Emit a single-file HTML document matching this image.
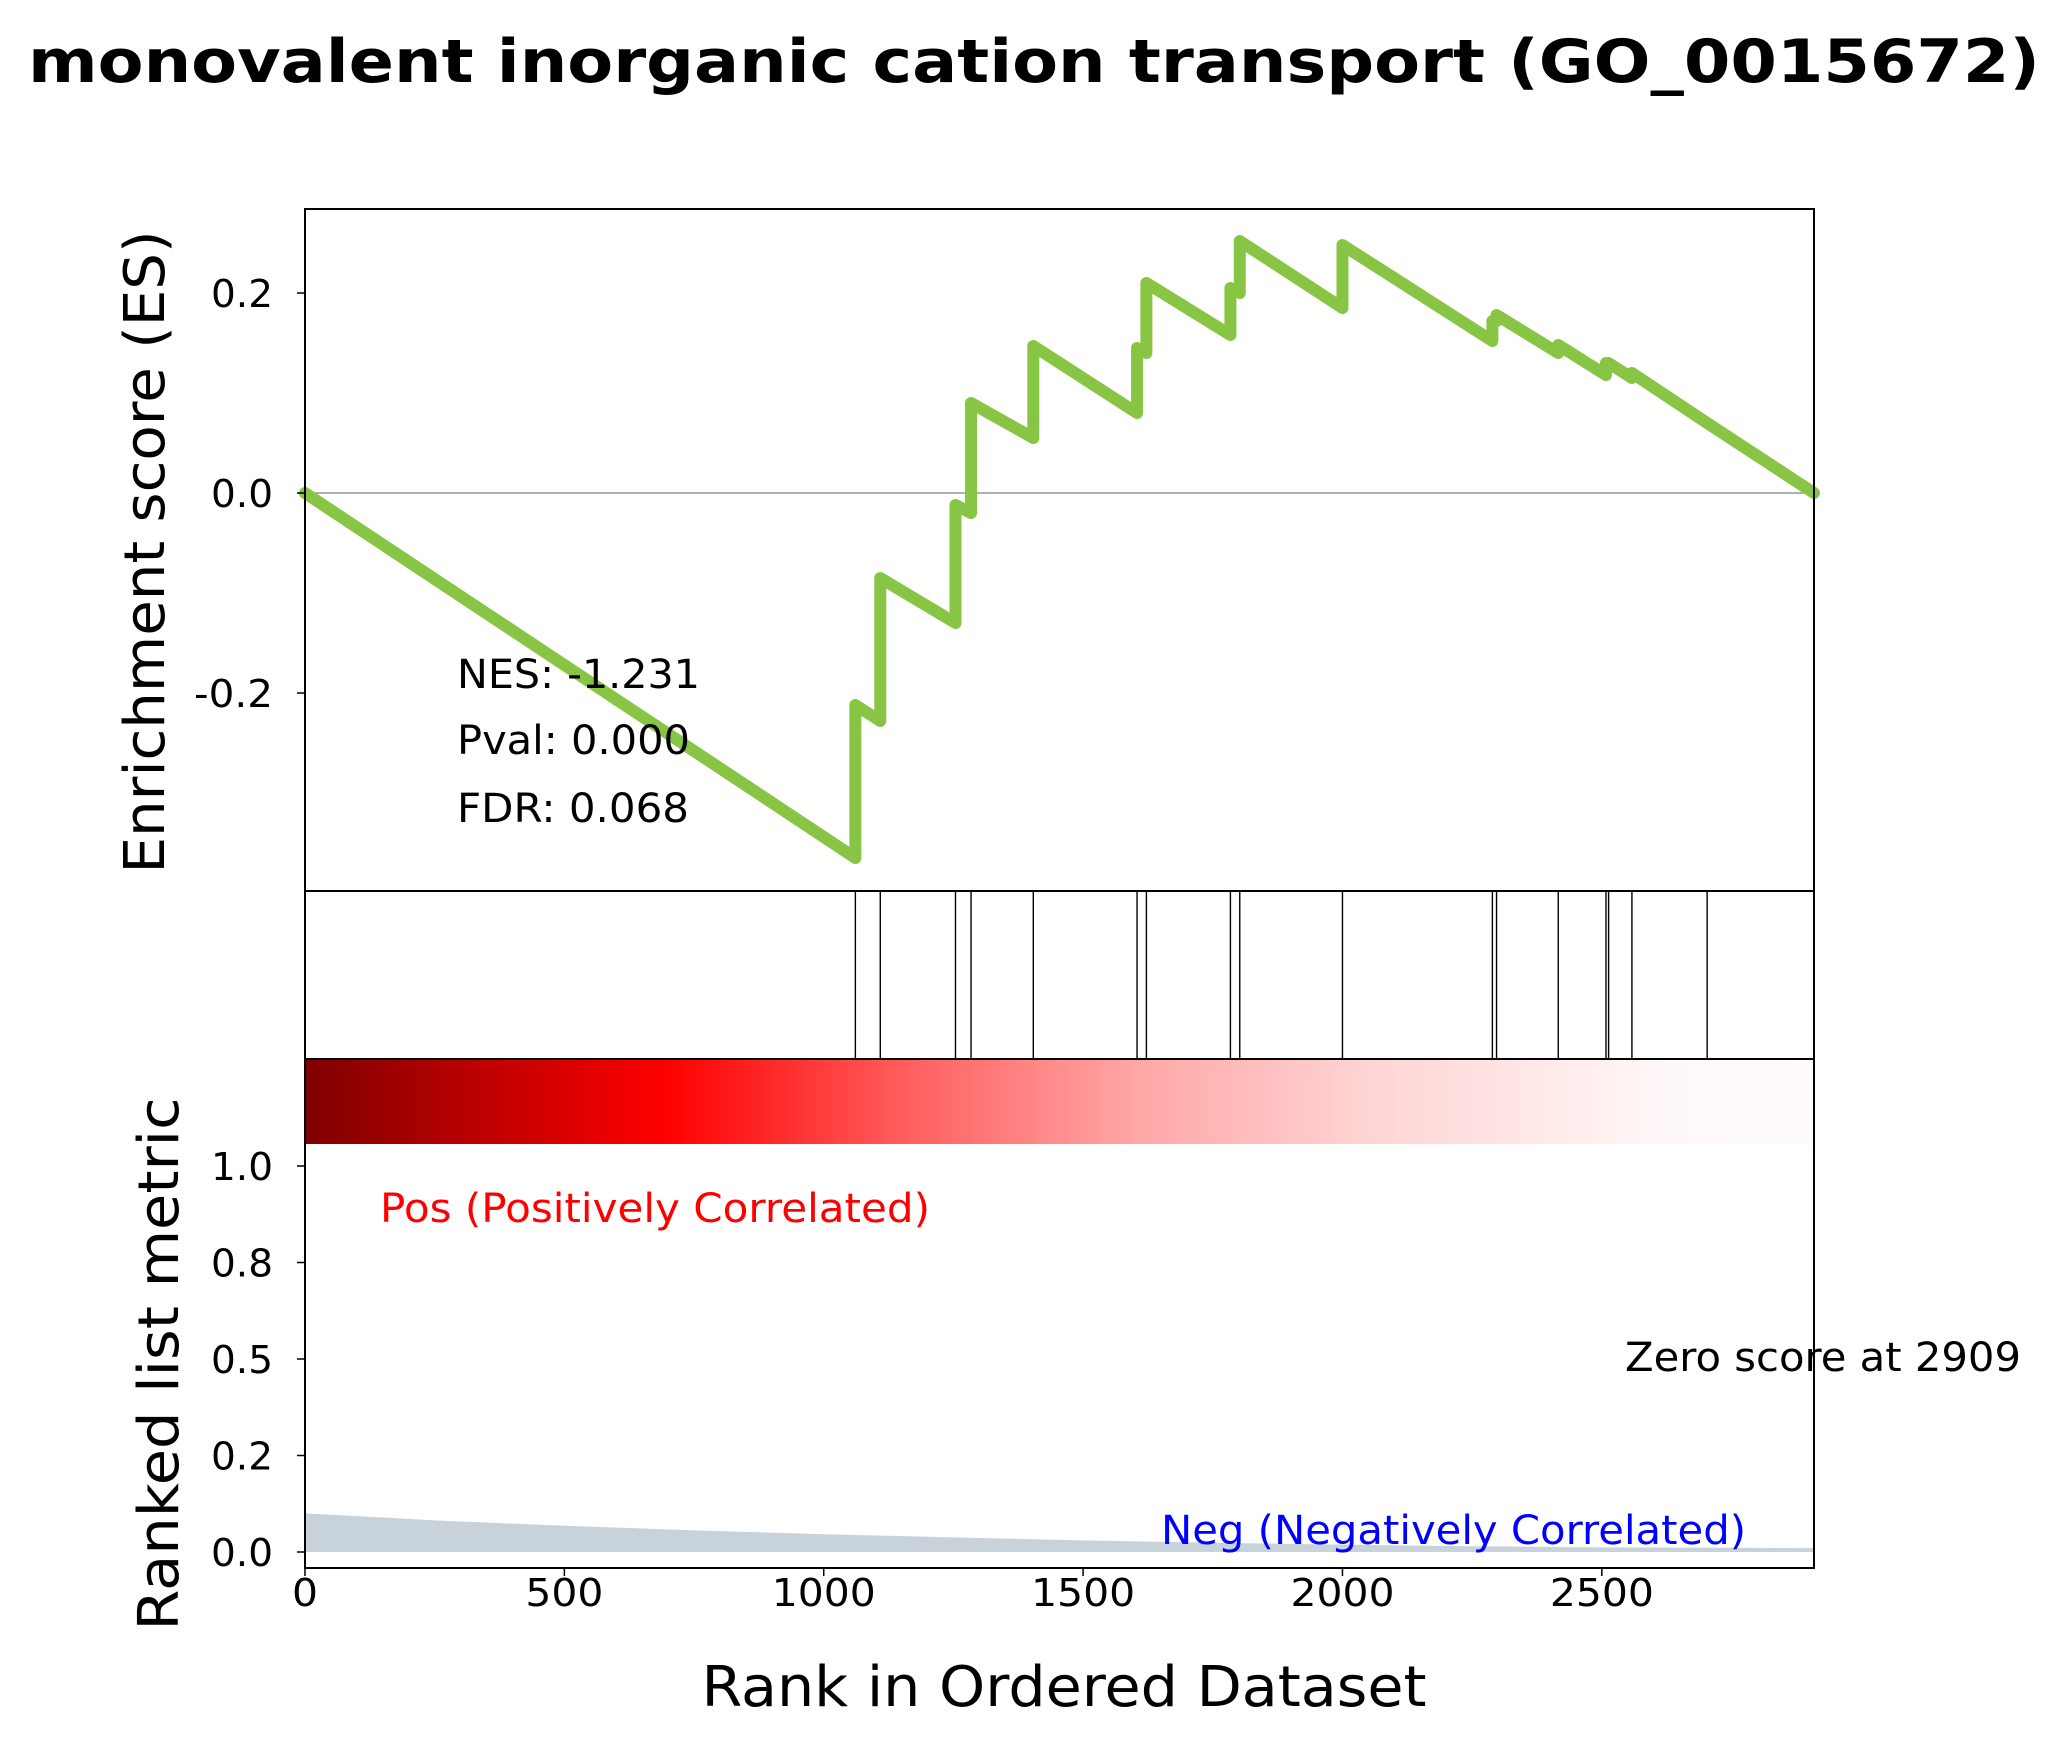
<!DOCTYPE html>
<html><head><meta charset="utf-8"><style>
html,body{margin:0;padding:0;background:#fff;}
svg{display:block;font-family:"DejaVu Sans","Liberation Sans",sans-serif;}
</style></head><body>
<svg id="chart" width="2068" height="1741" viewBox="0 0 2068 1741" xmlns="http://www.w3.org/2000/svg">
<defs>
<linearGradient id="rg" x1="0" x2="1" y1="0" y2="0">
<stop offset="0" stop-color="#7f0000"/>
<stop offset="0.24" stop-color="#ff0000"/>
<stop offset="0.40" stop-color="#ff5f5f"/>
<stop offset="0.55" stop-color="#ffa6a6"/>
<stop offset="0.70" stop-color="#ffd3d3"/>
<stop offset="0.85" stop-color="#ffeeee"/>
<stop offset="0.90" stop-color="#fff8f8"/>
<stop offset="1" stop-color="#fffbfb"/>
</linearGradient>
</defs>
<text x="1034" y="82" text-anchor="middle" font-size="60" font-weight="bold" textLength="2012" lengthAdjust="spacingAndGlyphs">monovalent inorganic cation transport (GO_0015672)</text>
<g id="es"></g>
<g id="hits"></g>
<g id="metric"></g>
</svg>
<script>
const hitRanks=[1061,1109,1254,1284,1404,1604,1622,1784,1802,2000,2289,2297,2416,2508,2513,2558,2703];
const esBefore=[-0.365,-0.228,-0.130,-0.020,0.055,0.080,0.140,0.158,0.200,0.185,0.152,0.172,0.140,0.118,0.128,0.115,0.070];
const esAfter=[-0.212,-0.085,-0.012,0.090,0.147,0.145,0.210,0.205,0.252,0.248,0.172,0.178,0.148,0.130,0.130,0.120,0.070];
const esTicks=[0.2,0.0,-0.2];
const esTickLabels=["0.2","0.0","-0.2"];
const xTicks=[0,500,1000,1500,2000,2500];
const nGenes=2909;
const metricRanks=[0,100,250,500,750,1000,1250,1500,1750,2000,2250,2500,2750,2909];
const metricVals=[0.10,0.093,0.082,0.068,0.056,0.046,0.038,0.030,0.024,0.019,0.015,0.012,0.011,0.010];
const mTicks=[0,0.25,0.5,0.75,1.0];
const mTickLabels=["0.0","0.2","0.5","0.8","1.0"];

const NS="http://www.w3.org/2000/svg";
const L=305,R=1814,T=209,ESB=891,HB=1059,B=1568;
const x=r=>L+(R-L)*r/nGenes;
const yES=v=>493-1000*v;
const yM=v=>1552-386*v;
function mk(tag,attrs,parent,txt){const e=document.createElementNS(NS,tag);for(const k in attrs)e.setAttribute(k,attrs[k]);if(txt!==undefined)e.textContent=txt;parent.appendChild(e);return e;}
function tlen(s){let w=0;for(const c of s){w+= c==='.'?10:(c==='-'?17:26);}return w;}
const es=document.getElementById('es'),hits=document.getElementById('hits'),met=document.getElementById('metric');

let z=mk('line',{x1:L,x2:R,y1:yES(0),y2:yES(0),stroke:'#808080','stroke-width':1.3},es);


let pts=[[0,0]];
hitRanks.forEach((r,i)=>{pts.push([r,esBefore[i]]);pts.push([r,esAfter[i]]);});
pts.push([nGenes,0]);
let pl=mk('polyline',{points:pts.map(p=>x(p[0])+','+yES(p[1])).join(' '),fill:'none',stroke:'#88c544','stroke-width':12,'stroke-linejoin':'round','stroke-linecap':'round'},es);


esTicks.forEach((v,i)=>{
  let t=mk('line',{x1:L-8,x2:L,y1:yES(v),y2:yES(v),stroke:'#000','stroke-width':1.5},es);
  
  
  let tl=mk('text',{x:L-32,y:yES(v)+14,'text-anchor':'end','font-size':38,textLength:tlen(esTickLabels[i]),lengthAdjust:'spacingAndGlyphs'},es,esTickLabels[i]);
  
  
});
[["NES: -1.231",688,243],["Pval: 0.000",754,233],["FDR: 0.068",822,232]].forEach(s=>{
  let t=mk('text',{x:457,y:s[1],'font-size':40,textLength:s[2],lengthAdjust:'spacingAndGlyphs'},es,s[0]);
  
  
});
let ylab=mk('text',{transform:'translate(164,552) rotate(-90)','text-anchor':'middle','font-size':56,textLength:643,lengthAdjust:'spacingAndGlyphs'},es,'Enrichment score (ES)');


let f1=mk('rect',{x:L,y:T,width:R-L,height:ESB-T,fill:'none',stroke:'#000','stroke-width':2},es);



hitRanks.forEach(r=>{
  let h=mk('line',{x1:x(r),x2:x(r),y1:ESB,y2:HB,stroke:'#000','stroke-width':1.4},hits);
  
  
});
let f2=mk('rect',{x:L,y:ESB,width:R-L,height:HB-ESB,fill:'none',stroke:'#000','stroke-width':2},hits);



let gb=mk('rect',{x:L,y:HB,width:R-L,height:85,fill:'url(#rg)'},met);


let ap=metricRanks.map((r,i)=>x(r)+','+yM(metricVals[i]));
ap.push(x(nGenes)+','+yM(0));ap.push(x(0)+','+yM(0));
let area=mk('polygon',{points:ap.join(' '),fill:'#c8d2db'},met);


mTicks.forEach((v,i)=>{
  let t=mk('line',{x1:L-8,x2:L,y1:yM(v),y2:yM(v),stroke:'#000','stroke-width':1.5},met);
  
  
  let tl=mk('text',{x:L-32,y:yM(v)+14,'text-anchor':'end','font-size':38,textLength:tlen(mTickLabels[i]),lengthAdjust:'spacingAndGlyphs'},met,mTickLabels[i]);
  
  
});
xTicks.forEach(v=>{
  let t=mk('line',{x1:x(v),x2:x(v),y1:B,y2:B+8,stroke:'#000','stroke-width':1.5},met);
  
  
  let s=String(v);
  let tl=mk('text',{x:x(v),y:B+38,'text-anchor':'middle','font-size':38,textLength:tlen(s),lengthAdjust:'spacingAndGlyphs'},met,s);
  
  
});
let pos=mk('text',{x:380,y:1222,'font-size':40,fill:'#ff0000',textLength:550,lengthAdjust:'spacingAndGlyphs'},met,'Pos (Positively Correlated)');


let neg=mk('text',{x:1161,y:1544,'font-size':40,fill:'#0000ff',textLength:585,lengthAdjust:'spacingAndGlyphs'},met,'Neg (Negatively Correlated)');


let zs=mk('text',{x:1625,y:1371,'font-size':40,textLength:396,lengthAdjust:'spacingAndGlyphs'},met,'Zero score at 2909');


let ml=mk('text',{transform:'translate(178,1364) rotate(-90)','text-anchor':'middle','font-size':56,textLength:533,lengthAdjust:'spacingAndGlyphs'},met,'Ranked list metric');


let xl=mk('text',{x:1064,y:1706,'text-anchor':'middle','font-size':56,textLength:725,lengthAdjust:'spacingAndGlyphs'},met,'Rank in Ordered Dataset');


let f3=mk('rect',{x:L,y:HB,width:R-L,height:B-HB,fill:'none',stroke:'#000','stroke-width':2},met);


</script>
</body></html>
